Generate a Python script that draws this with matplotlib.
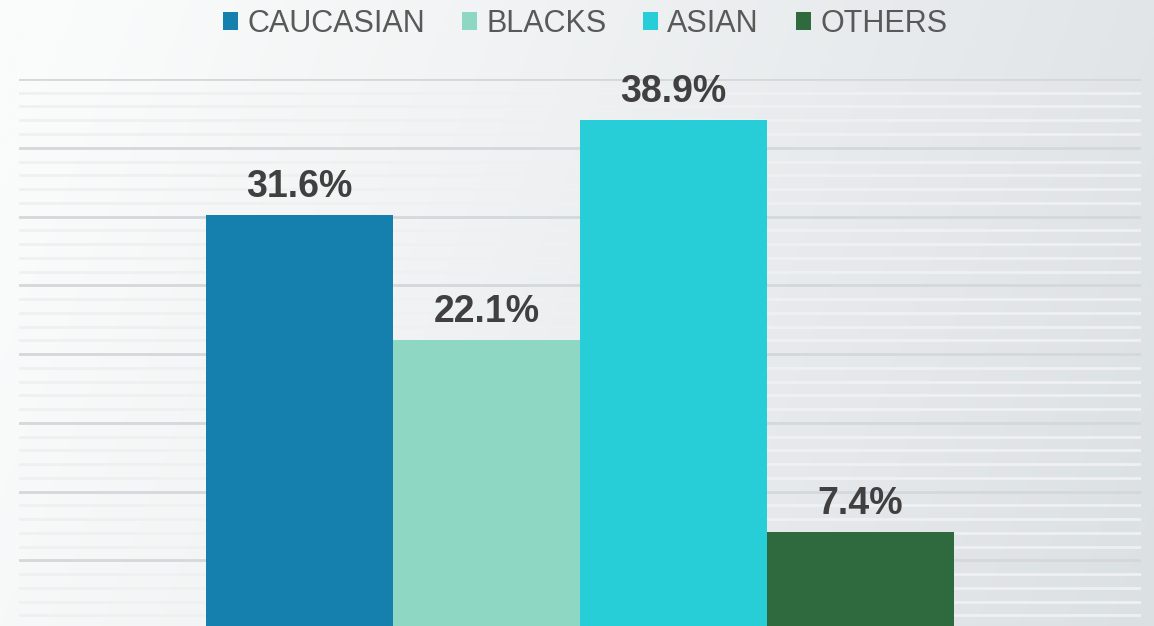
import numpy as np
import matplotlib
matplotlib.use("Agg")
import matplotlib.pyplot as plt
from matplotlib.patches import Patch
from matplotlib.ticker import MultipleLocator

# data
groups = ["CAUCASIAN", "BLACKS", "ASIAN", "OTHERS"]
shares = [31.6, 22.1, 38.9, 7.4]
colors = ["#1580ad", "#8dd7c3", "#27cdd7", "#2e6a3e"]

plt.rcParams['font.family'] = ['Liberation Sans', 'DejaVu Sans']

fig = plt.figure(figsize=(11.54, 6.26), dpi=100)

# background gradient (light on the left, grey-blue on the right)
bg = fig.add_axes([0, 0, 1, 1], zorder=-10)
bg.set_axis_off()
w, h = 400, 200
xx, yy = np.meshgrid(np.linspace(0, 1, w), np.linspace(0, 1, h))
t = np.clip(0.88 * xx + 0.18 * yy - 0.06, 0, 1) ** 1.1
c0 = np.array([0xfa, 0xfb, 0xfb]) / 255
c1 = np.array([0xdb, 0xe0, 0xe3]) / 255
img = c0[None, None, :] * (1 - t[..., None]) + c1[None, None, :] * t[..., None]
bg.imshow(img, aspect='auto', extent=[0, 1, 0, 1], origin='upper')
bg.set_xlim(0, 1)
bg.set_ylim(0, 1)

ax = fig.add_axes([19 / 1154, -3 / 626, 1122 / 1154, 550 / 626])
ax.patch.set_alpha(0)

x = np.arange(len(groups)) - 1.5
bars = ax.bar(x, shares, width=1.0, color=colors, zorder=3)
ax.bar_label(bars, labels=[f"{v:.1f}%" for v in shares], padding=7,
             fontsize=27, fontweight='bold', color='#404040')

ax.set_xlim(-3, 3)
ax.set_ylim(0, 42.0)
ax.yaxis.set_major_locator(MultipleLocator(5.25))
ax.yaxis.set_minor_locator(MultipleLocator(1.05))
ax.grid(axis='y', which='major', color='#d5d8da', linewidth=2)
ax.grid(axis='y', which='minor', color='#eff0f1', linewidth=2)
ax.set_axisbelow(True)
ax.tick_params(which='both', left=False, bottom=False, labelleft=False, labelbottom=False)
for s in ax.spines.values():
    s.set_visible(False)

handles = [Patch(facecolor=c, edgecolor='none') for c in colors]
fig.legend(handles, groups, loc='center', bbox_to_anchor=(585 / 1154, 1 - 24 / 626),
           ncol=4, frameon=False, fontsize=22, labelcolor='#595959',
           handlelength=0.5, handleheight=0.5, handletextpad=0.3,
           columnspacing=1.2)

fig.savefig("out.png", dpi=100)
